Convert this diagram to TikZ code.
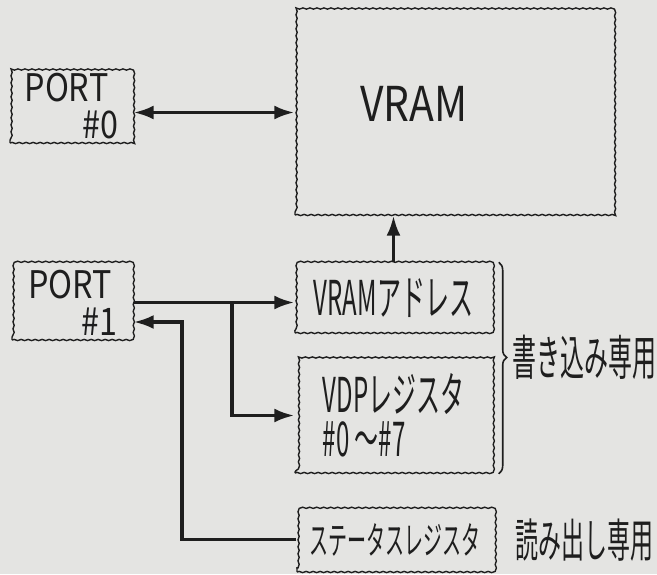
\documentclass[tikz,border=0pt]{standalone}
\usepackage{fontspec}
\usepackage{tikz}
\usetikzlibrary{arrows.meta,calc,positioning,decorations.pathmorphing,decorations.pathreplacing}
\newfontfamily\handnarrow[FakeStretch=0.5]{Noto Sans CJK JP}
\newfontfamily\handwide[FakeStretch=0.85]{Noto Sans CJK JP}
\definecolor{Paper}{HTML}{E4E4E2}
\definecolor{Ink}{HTML}{1E1E1E}

\begin{document}
\begin{tikzpicture}[x=1pt,y=-1pt,
  >={Latex[length=20pt,width=14pt]},
  regbox/.style={draw=Ink,line width=1.4pt,fill=Paper,inner sep=0pt,
    decorate,decoration={snake,segment length=7pt,amplitude=0.6pt}},
  txt/.style={text=Ink,font=\handnarrow\fontsize{48}{44}\selectfont},
  porttxt/.style={text=Ink,align=left,font=\handwide\fontsize{38}{37}\selectfont},
  wire/.style={draw=Ink,line width=3.4pt}]
\fill[Paper] (0,0) rectangle (657,574);
\useasboundingbox (0,0) rectangle (657,574);
% ports
\node[regbox,porttxt,minimum width=123,minimum height=73] (port0) at (71.5,106.5) {PORT\\\hspace*{58pt}\#0};
\node[regbox,porttxt,minimum width=121,minimum height=75] (port1) at (72.5,302.5) {PORT\\\hspace*{53pt}\#1};
% VRAM and the registers
\node[regbox,minimum width=320,minimum height=205] (vram) at (455,112.5) {};
\node[text=Ink,font=\handwide\fontsize{48}{48}\selectfont] (vramlabel) at (414,104) {VRAM};
\node[regbox,txt,minimum width=197,minimum height=70] (vaddr) at (393.5,298) {VRAMアドレス};
\node[regbox,txt,align=left,minimum width=197,minimum height=115] (vdp) at (393.5,415.5) {VDPレジスタ\\\#0 〜\#7};
\node[regbox,txt,font=\handnarrow\fontsize{38}{38}\selectfont,minimum width=196,minimum height=65] (stat) at (395,539.5) {ステータスレジスタ};
\node[txt] (wonly) at (584,357) {書き込み専用};
\node[txt,font=\handnarrow\fontsize{46}{46}\selectfont] (ronly) at (584,540) {読み出し専用};
% connections
\coordinate (split) at (232,302.5);
\coordinate (ret) at (182,322);
\draw[wire,<->] (vram.west -| port0.east) -- (vram.west);
\draw[wire,->] (port1.east) -- (port1.east -| vaddr.west);
\draw[wire,->] (split) |- (vdp.west);
\draw[wire,->] (stat.west) -| (ret) -- (ret -| port1.east);
\draw[wire,->] (vaddr.north) -- (vaddr.north |- vram.south);
\draw[Ink,line width=1.6pt,decorate,decoration={brace,amplitude=8pt,aspect=0.45}]
  ([xshift=6pt]vaddr.north east) -- ([xshift=6pt]vdp.south east);
\end{tikzpicture}
\end{document}
